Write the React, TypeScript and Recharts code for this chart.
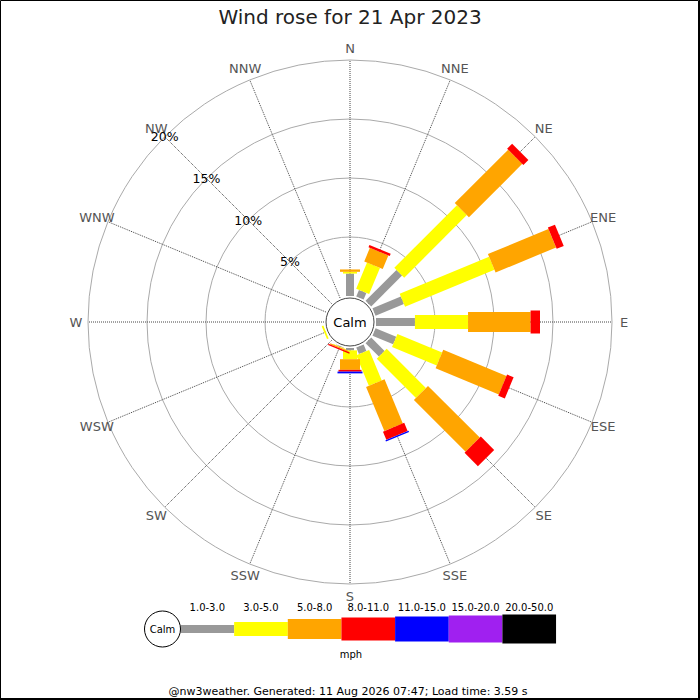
import React from "react";
import {
  RadialBarChart,
  RadialBar,
  PolarGrid,
  PolarAngleAxis,
  PolarRadiusAxis,
} from "recharts";

const directions = ["N", "NNE", "NE", "ENE", "E", "ESE", "SE", "SSE", "S", "SSW", "SW", "WSW", "W", "WNW", "NW", "NNW"];
const directionDegrees = [0, 22.5, 45, 67.5, 90, 112.5, 135, 157.5, 180, 202.5, 225, 247.5, 270, 292.5, 315, 337.5];

const speedBins = ["1.0-3.0", "3.0-5.0", "5.0-8.0", "8.0-11.0", "11.0-15.0", "15.0-20.0", "20.0-50.0"];

// % of observations per direction, one array per speed bin
const speed1to3 = [1.9, 0.6, 3.7, 2.6, 3.3, 1.9, 1.6, 0.6, 0.2, 0.05, 0, 0, 0, 0, 0, 0];
const speed3to5 = [0.15, 2.4, 7.5, 8.2, 4.5, 4.1, 4.7, 2.8, 0.75, 0.05, 0, 0.15, 0, 0, 0, 0];
const speed5to8 = [0.2, 1.25, 6.4, 5.55, 5.3, 5.8, 6.2, 4.05, 0.9, 0.1, 0, 0, 0, 0, 0, 0];
const speed8to11 = [0, 0.2, 0.6, 0.65, 0.8, 0.6, 1.6, 0.75, 0.15, 0.1, 0, 0, 0, 0, 0, 0];
const speed11to15 = [0, 0, 0, 0, 0, 0, 0, 0.12, 0.15, 0, 0, 0, 0, 0, 0, 0];
const speed15to20 = [0, 0, 0, 0, 0, 0, 0, 0, 0, 0, 0, 0, 0, 0, 0, 0];
const speed20to50 = [0, 0, 0, 0, 0, 0, 0, 0, 0, 0, 0, 0, 0, 0, 0, 0];

const percentTicks = [5, 10, 15, 20];

const series = [speed1to3, speed3to5, speed5to8, speed8to11, speed11to15, speed15to20, speed20to50];
const COLORS = ["#999999", "#ffff00", "#ffa500", "#ff0000", "#0000ff", "#a020f0", "#000000"];
const WIDTHS = [8, 14, 20, 23, 25, 27, 29];

const data = directions.map((dir, i) => {
  const row: Record<string, number | string> = { dir, deg: directionDegrees[i] };
  series.forEach((s, k) => {
    row["b" + k] = s[i];
  });
  return row;
});

const FONT = "DejaVu Sans, sans-serif";
const CX = 350;
const CY = 322;
const INNER = 26;
const OUTER = 262;

// draws a straight bar of fixed width along the sector's middle angle
const barShape = (w: number) => (props: any) => {
  const { cx, cy, innerRadius, outerRadius, startAngle, endAngle, fill } = props;
  if (!(outerRadius - innerRadius > 0.01)) return <g />;
  const a = (((startAngle + endAngle) / 2) * Math.PI) / 180;
  const ux = Math.cos(a);
  const uy = -Math.sin(a);
  const nx = -uy * (w / 2);
  const ny = ux * (w / 2);
  const pts = [
    [cx + ux * innerRadius + nx, cy + uy * innerRadius + ny],
    [cx + ux * outerRadius + nx, cy + uy * outerRadius + ny],
    [cx + ux * outerRadius - nx, cy + uy * outerRadius - ny],
    [cx + ux * innerRadius - nx, cy + uy * innerRadius - ny],
  ]
    .map((p) => p.join(","))
    .join(" ");
  return <polygon points={pts} fill={fill} />;
};

const DirTick = (props: any) => {
  const { x, y, payload } = props;
  const idx = directionDegrees.indexOf(payload.value);
  return (
    <text x={x} y={y} textAnchor="middle" dominantBaseline="central" fontSize={13} fill="#555" fontFamily={FONT}>
      {directions[idx]}
    </text>
  );
};

const PctTick = (props: any) => {
  const { x, y, payload } = props;
  return (
    <text x={x} y={y} textAnchor="middle" dominantBaseline="central" fontSize={12.5} fill="#000" fontFamily={FONT}>
      {payload.value}%
    </text>
  );
};

function SpeedLegend() {
  const y = 629;
  const x0 = 180.5;
  const step = 53.65;
  return (
    <g fontFamily={FONT}>
      {speedBins.map((label, i) => (
        <g key={label}>
          <rect x={x0 + i * step} y={y - WIDTHS[i] / 2} width={step} height={WIDTHS[i]} fill={COLORS[i]} />
          <text x={x0 + i * step + step / 2} y={607} textAnchor="middle" dominantBaseline="central" fontSize={10} fill="#000">
            {label}
          </text>
        </g>
      ))}
      <circle cx={162.5} cy={y} r={18} fill="#fff" stroke="#000" strokeWidth={1} />
      <text x={162.5} y={y} textAnchor="middle" dominantBaseline="central" fontSize={10} fill="#000">
        Calm
      </text>
      <text x={351} y={654} textAnchor="middle" dominantBaseline="central" fontSize={10} fill="#000">
        mph
      </text>
    </g>
  );
}

export default function App() {
  return (
    <div style={{ position: "absolute", left: 0, top: 0, width: 700, height: 700, background: "#fff" }}>
      <RadialBarChart
        width={700}
        height={700}
        data={data}
        layout="centric"
        cx={CX}
        cy={CY}
        innerRadius={INNER}
        outerRadius={OUTER}
        startAngle={90}
        endAngle={-270}
        barCategoryGap="10%"
        margin={{ top: 0, right: 0, bottom: 0, left: 0 }}
      >
        <PolarAngleAxis
          type="number"
          dataKey="deg"
          domain={[0, 360]}
          allowDataOverflow
          ticks={directionDegrees}
          tick={DirTick}
          tickSize={12}
          tickLine={false}
          axisLine={false}
        />
        <PolarRadiusAxis
          type="number"
          domain={[0, 20]}
          allowDataOverflow
          ticks={percentTicks}
          angle={135}
          tick={PctTick}
          tickLine={false}
          axisLine={false}
        />
        <PolarGrid gridType="circle" radialLines={false} stroke="#aaaaaa" />
        <PolarGrid gridType="circle" polarRadius={[]} stroke="#444" strokeDasharray="1 1" />
        {series.map((_, k) => (
          <RadialBar
            key={k}
            dataKey={"b" + k}
            name={speedBins[k]}
            stackId="speed"
            fill={COLORS[k]}
            shape={barShape(WIDTHS[k])}
            isAnimationActive={false}
          />
        ))}
      </RadialBarChart>
      <svg width={700} height={700} style={{ position: "absolute", left: 0, top: 0, pointerEvents: "none" }}>
        <text x={350} y={17} textAnchor="middle" dominantBaseline="central" fontSize={20} fill="#222" fontFamily={FONT}>
          Wind rose for 21 Apr 2023
        </text>
        <circle cx={CX} cy={CY} r={24} fill="#fff" stroke="#444" strokeWidth={1} />
        <text x={CX} y={CY} textAnchor="middle" dominantBaseline="central" fontSize={13} fill="#000" fontFamily={FONT}>
          Calm
        </text>
        <SpeedLegend />
        <text x={348} y={691} textAnchor="middle" dominantBaseline="central" fontSize={11} fill="#000" fontFamily={FONT}>
          @nw3weather. Generated: 11 Aug 2026 07:47; Load time: 3.59 s
        </text>
        <path d="M0.5 700 V0.5 H698.5 V700 M0 698.5 H700" stroke="#000" strokeWidth={1} fill="none" />
        <path d="M699.5 0 V700 M0 699.5 H700" stroke="#000" strokeWidth={1} fill="none" />
      </svg>
    </div>
  );
}
